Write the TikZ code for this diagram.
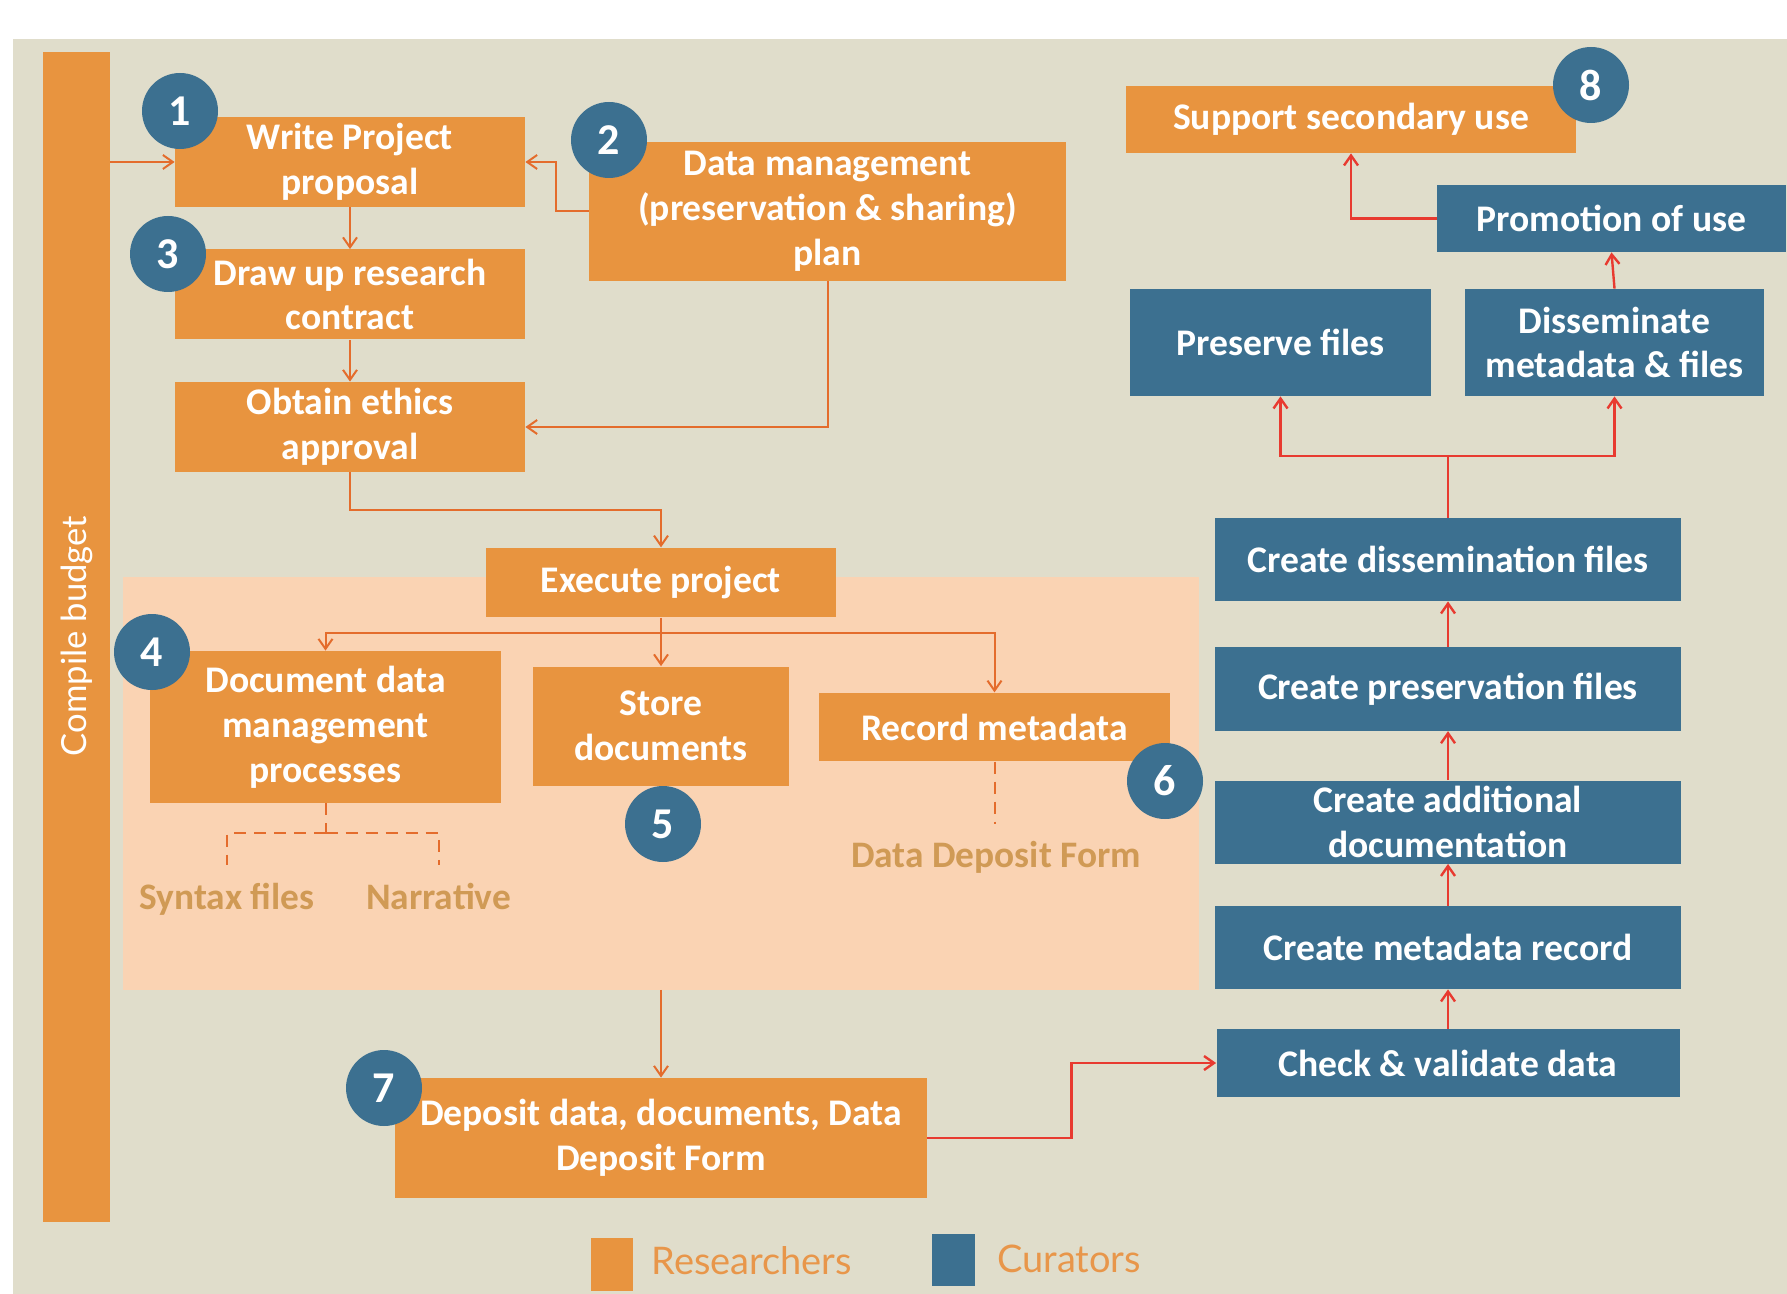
\documentclass[tikz,border=0pt]{standalone}
\usepackage{fontspec}
\setmainfont{Carlito}
\newfontfamily\legendfont{Lato}
\usetikzlibrary{arrows.meta}
\definecolor{bgc}{HTML}{E0DDCB}
\definecolor{orangec}{HTML}{E8943F}
\definecolor{bluec}{HTML}{3C7090}
\definecolor{pinkc}{HTML}{FAD3B3}
\definecolor{olinec}{HTML}{E46C2C}
\definecolor{redc}{HTML}{E83A30}
\definecolor{tanc}{HTML}{D09A55}
\definecolor{legc}{HTML}{E8964A}
\tikzset{
  boxbase/.style={rectangle, inner sep=0pt, align=center, text=white,
    font=\fontsize{18.8}{22.4}\selectfont\bfseries},
  obox/.style={boxbase, fill=orangec},
  bbox/.style={boxbase, fill=bluec},
  circ/.style={circle, fill=bluec, minimum size=38pt, inner sep=0pt, text=white,
    font=\fontsize{22}{22}\selectfont\bfseries},
  oline/.style={draw=olinec, line width=1pt},
  oarr/.style={oline, -{Straight Barb[length=5pt,width=7pt]}},
  rline/.style={draw=redc, line width=1.2pt},
  rarr/.style={rline, -{Straight Barb[length=5pt,width=7pt]}},
  dline/.style={draw=olinec, line width=1pt, dash pattern=on 6pt off 4pt},
  tantext/.style={text=tanc, inner sep=0pt, anchor=base, font=\fontsize{18.7}{18.7}\selectfont\bfseries},
  legtext/.style={text=legc, inner sep=0pt, anchor=west, font=\legendfont\fontsize{19}{19}\selectfont},
}
\begin{document}
\begin{tikzpicture}[x=0.5pt,y=-0.5pt]
\useasboundingbox (0,0) rectangle (1787,1294);
\fill[white] (0,0) rectangle (1787,1294);
\fill[bgc] (13,39) rectangle (1787,1294);

% region and budget bar
\node[fill=pinkc, minimum width=538pt, minimum height=206.25pt, inner sep=0pt] (region) at (661,783.25) {};
\node[fill=orangec, minimum width=33.75pt, minimum height=585pt, inner sep=0pt] (budget) at (76.25,637) {};
\node[rotate=90, text=white, inner sep=0pt, font=\legendfont\fontsize{17.3}{17.3}\selectfont] (budgetlabel) at (76.5,636) {Compile budget};

% researcher boxes
\node[obox, minimum width=175pt, minimum height=45pt] (wp) at (350,162) {Write Project\\proposal};
\node[obox, minimum width=238.5pt, minimum height=69.5pt] (dm) at (827.5,211.5) {Data management\\(preservation \& sharing)\\plan};
\node[obox, minimum width=175pt, minimum height=45pt] (draw) at (350,294.5) {Draw up research\\contract};
\node[obox, minimum width=175pt, minimum height=45pt] (eth) at (350,427) {Obtain ethics\\approval};
\node[obox, minimum width=175pt, minimum height=34.75pt] (exec) at (661,582.5) {Execute project};
\node[obox, minimum width=175.5pt, minimum height=76pt] (doc) at (325.5,727) {Document data\\management\\processes};
\node[obox, minimum width=128pt, minimum height=59.5pt] (store) at (661,726) {Store\\documents};
\node[obox, minimum width=175.5pt, minimum height=34.25pt] (rec) at (994.5,727) {Record metadata};
\node[obox, minimum width=266pt, minimum height=60pt] (dep) at (661,1138) {Deposit data, documents, Data\\Deposit Form};
\node[obox, minimum width=225pt, minimum height=33.5pt] (sup) at (1351,119.5) {Support secondary use};

% curator boxes
\node[bbox, minimum width=231.5pt, minimum height=34pt] (chk) at (1448,1063) {Check \& validate data};
\node[bbox, minimum width=233pt, minimum height=41.5pt] (cmr) at (1448,947.5) {Create metadata record};
\node[bbox, minimum width=233pt, minimum height=41.5pt] (cad) at (1448,822) {Create additional\\documentation};
\node[bbox, minimum width=233pt, minimum height=41.75pt] (cpf) at (1448,689) {Create preservation files};
\node[bbox, minimum width=233pt, minimum height=41.5pt] (cdf) at (1448,559.5) {Create dissemination files};
\node[bbox, minimum width=150.5pt, minimum height=53.5pt] (pres) at (1280.5,342.5) {Preserve files};
\node[bbox, minimum width=149.5pt, minimum height=53.5pt] (diss) at (1614.5,342.5) {Disseminate\\metadata \& files};
\node[bbox, minimum width=174.5pt, minimum height=33.5pt] (prom) at (1611.5,218.5) {Promotion of use};

% orange connectors
\draw[oarr] (budget.east |- wp.west) -- (wp.west);
\draw[oarr] (dm.west) -- ++(-33,0) |- (wp.east);
\draw[oarr] (wp.south) -- (draw.north);
\draw[oarr] (draw.south) -- (eth.north);
\draw[oarr] (dm.south) |- (eth.east);
\draw[oarr] (eth.south) -- ++(0,38) -| (exec.north);
\coordinate (br) at (661,633);
\draw[oline] (exec.south) -- (br);
\draw[oarr] (br) -| (doc.north);
\draw[oarr] (br) -| (rec.north);
\draw[oarr] (br) -- (store.north);
\draw[oarr] (region.south -| dep.north) -- (dep.north);

% dashed links and labels
\coordinate (dj) at (325.5,833);
\node[tantext] (syn) at (227,909) {Syntax files};
\node[tantext] (nar) at (438.6,909) {Narrative};
\node[tantext] (ddf) at (996,867) {Data Deposit Form};
\draw[dline] (doc.south) -- (dj);
\draw[dline] (dj) -| (227,865);
\draw[dline] (dj) -| (438.6,865);
\draw[dline] (rec.south) -- (994.5,823.5);

% red connectors
\draw[rarr] (dep.east) -- ++(144,0) |- (chk.west);
\draw[rarr] (chk.north) -- (cmr.south);
\draw[rarr] (cmr.north) -- (cad.south);
\draw[rarr] (cad.north) -- (cpf.south);
\draw[rarr] (cpf.north) -- (cdf.south);
\coordinate (bj) at (1448,456);
\draw[rline] (cdf.north) -- (bj);
\draw[rarr] (bj) -| (pres.south);
\draw[rarr] (bj) -| (diss.south);
\draw[rarr] (diss.north) -- (prom.south);
\draw[rarr] (prom.west) -| (sup.south);

% numbered circles
\node[circ] (c1) at (180,111) {1};
\node[circ] (c2) at (609,140) {2};
\node[circ] (c3) at (168,254) {3};
\node[circ] (c4) at (152,652) {4};
\node[circ] (c5) at (663,824) {5};
\node[circ] (c6) at (1165,781) {6};
\node[circ] (c7) at (384,1088) {7};
\node[circ] (c8) at (1591,85) {8};

% legend
\node[fill=orangec, minimum width=21pt, minimum height=26.5pt, inner sep=0pt] (legR) at (612,1264) {};
\node[legtext] (legRt) at (651,1261) {Researchers};
\node[fill=bluec, minimum width=21.5pt, minimum height=26pt, inner sep=0pt] (legC) at (953.5,1260) {};
\node[legtext] (legCt) at (997,1259) {Curators};
\end{tikzpicture}
\end{document}
